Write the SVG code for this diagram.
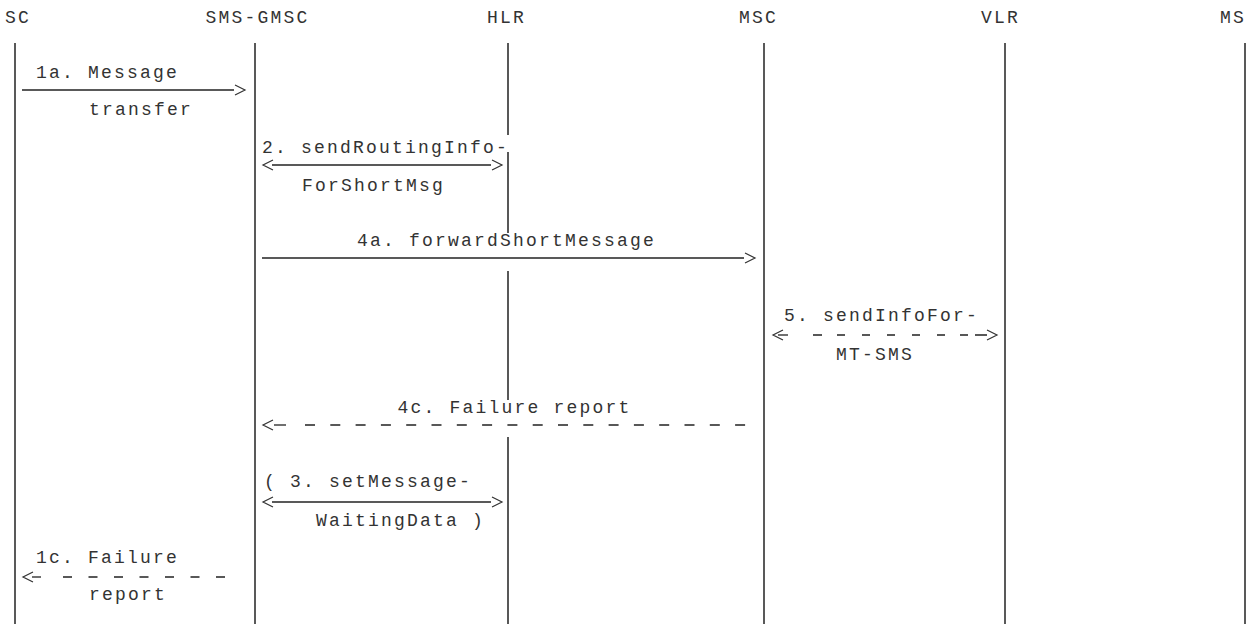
<svg xmlns="http://www.w3.org/2000/svg" width="1247" height="624" viewBox="0 0 1247 624">
<style>
.t{font-family:"Liberation Mono","DejaVu Sans Mono",monospace;font-size:18px;letter-spacing:2.2px;fill:#333;}
.life{stroke:#222;stroke-width:1.5;fill:none;}
.sol{stroke:#222;stroke-width:1.3;fill:none;}
.dsh{stroke:#222;stroke-width:1.3;fill:none;}
.hd{stroke:#333;stroke-width:1.2;fill:none;stroke-linejoin:miter;}
</style>
<rect width="1247" height="624" fill="#ffffff"/>
<g id="node-SC">
<text class="t" x="5" y="23">SC</text>
<line class="life" x1="15" y1="43" x2="15" y2="624"/>
</g>
<g id="node-SMS-GMSC">
<text class="t" x="205.5" y="23">SMS-GMSC</text>
<line class="life" x1="255" y1="43" x2="255" y2="624"/>
</g>
<g id="node-HLR">
<text class="t" x="487" y="23">HLR</text>
<path class="life" d="M508,43 V135 M508,152 V233 M508,271 V400 M508,437 V624"/>
</g>
<g id="node-MSC">
<text class="t" x="739" y="23">MSC</text>
<line class="life" x1="764" y1="43" x2="764" y2="624"/>
</g>
<g id="node-VLR">
<text class="t" x="981" y="23">VLR</text>
<line class="life" x1="1005" y1="43" x2="1005" y2="624"/>
</g>
<g id="node-MS">
<text class="t" x="1220" y="23" letter-spacing="1.5">MS</text>
<line class="life" x1="1245" y1="43" x2="1245" y2="624"/>
</g>
<g id="connectors">
<text class="t" x="36" y="78">1a. Message</text>
<line class="sol" x1="22" y1="90" x2="234" y2="90"/>
<path class="hd" d="M235,85 L245,90 L235,95"/>
<text class="t" x="89" y="115">transfer</text>
<text class="t" x="262" y="153">2. sendRoutingInfo-</text>
<line class="sol" x1="272" y1="165" x2="491" y2="165"/>
<path class="hd" d="M273,160 L263,165 L273,170"/>
<path class="hd" d="M492,160 L502,165 L492,170"/>
<text class="t" x="302" y="191">ForShortMsg</text>
<text class="t" x="357" y="246">4a. forwardShortMessage</text>
<line class="sol" x1="262" y1="258" x2="744" y2="258"/>
<path class="hd" d="M745,253 L755,258 L745,263"/>
<text class="t" x="784" y="321">5. sendInfoFor-</text>
<line class="dsh" x1="778" y1="335" x2="788" y2="335"/>
<line class="dsh" x1="813" y1="335" x2="987" y2="335" stroke-dasharray="9 15 8 17 8 17 8 17 8 17 8 15 8 7 12"/>
<path class="hd" d="M783,330 L773,335 L783,340"/>
<path class="hd" d="M987,330 L997,335 L987,340"/>
<text class="t" x="836" y="360">MT-SMS</text>
<text class="t" x="397.5" y="412.5">4c. Failure report</text>
<line class="dsh" x1="274" y1="425" x2="286" y2="425"/>
<line class="dsh" x1="305" y1="425" x2="746" y2="425" stroke-dasharray="10 15.3"/>
<path class="hd" d="M273,420 L263,425 L273,430"/>
<text class="t" x="264" y="487">( 3. setMessage-</text>
<line class="sol" x1="272" y1="502" x2="491" y2="502"/>
<path class="hd" d="M273,497 L263,502 L273,507"/>
<path class="hd" d="M492,497 L502,502 L492,507"/>
<text class="t" x="316" y="526">WaitingData )</text>
<text class="t" x="36" y="563">1c. Failure</text>
<line class="dsh" x1="32" y1="577" x2="41" y2="577"/>
<line class="dsh" x1="63" y1="577" x2="226" y2="577" stroke-dasharray="9 16.5"/>
<path class="hd" d="M33,572 L23,577 L33,582"/>
<text class="t" x="89" y="600">report</text>
</g>
</svg>
